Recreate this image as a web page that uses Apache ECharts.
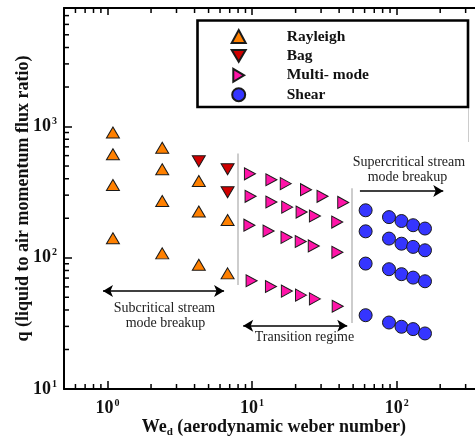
<!DOCTYPE html>
<html>
<head>
<meta charset="utf-8">
<script src="https://cdn.jsdelivr.net/npm/echarts@6/dist/echarts.min.js"></script>
<style>
html,body{margin:0;padding:0;background:#fff;}
#c{width:475px;height:438px;}
</style>
</head>
<body>
<div id="c"></div>
<script>
// ---- data ----
const rayleighX = [1.09, 1.09, 1.09, 1.09, 2.39, 2.39, 2.39, 2.39, 4.28, 4.28, 4.28, 6.77, 6.77];
const rayleighY = [900, 615, 358, 141, 690, 472, 271, 108, 385, 225, 88.5, 194, 76];
const bagX = [4.28, 6.77, 6.77];
const bagY = [543, 472, 316];
const multiX = [9.66, 13.6, 17.1, 23.6, 30.7, 42.7,
                9.76, 13.6, 17.5, 22.0, 27.2, 38.8,
                9.58, 13.0, 17.3, 21.7, 26.7, 38.9,
                9.92, 13.5, 17.4, 21.8, 27.2, 39.1];
const multiY = [436, 393, 367, 330, 294, 264,
                294, 266, 243, 223, 208, 187,
                177, 160, 143, 133, 123, 110,
                66.8, 60.4, 55.7, 51.9, 48.6, 42.7];
const shearX = [61, 88.5, 108, 130, 157,
                61, 88.5, 108, 130, 157,
                61, 88.5, 108, 130, 157,
                61, 88.5, 108, 130, 157];
const shearY = [230, 204, 190.5, 177, 167,
                159, 140, 128, 121, 114,
                90.3, 81.8, 75, 70.6, 66.2,
                36.5, 32.1, 29.8, 28.6, 26.5];
const seriesNames = ['Rayleigh', 'Bag', 'Multi- mode', 'Shear'];
const xRange = [0.5, 400];
const yRange = [10, 8000];
const xMinorTicks = [0.6, 0.7, 0.8, 0.9, 2, 3, 4, 5, 6, 7, 8, 9, 20, 30, 40, 50, 60, 70, 80, 90, 200, 300];
const yMinorTicks = [20, 30, 40, 50, 60, 70, 80, 90, 200, 300, 400, 500, 600, 700, 800, 900, 2000, 3000, 4000, 5000, 6000, 7000];
// regime boundary lines [x, yTop, yBottom]
const boundaries = [[8, 624, 62], [49, 338, 31.8]];
// arrows [x1, x2, y]
const arrowSub = [0.93, 6.4, 55.9];
const arrowTrans = [8.68, 45.5, 30.3];
const arrowSuper = [55.7, 210, 322];

const zip = (xs, ys) => xs.map((x, i) => [x, ys[i]]);

const serif = '"Liberation Serif", "Times New Roman", serif';
const stroke = '#1a1a1a';

function expLabel(v) {
  const e = Math.round(Math.log10(v));
  return '{b|10}{s|' + e + '}';
}
const richExp = {
  b: {fontFamily: serif, fontWeight: 'bold', fontSize: 18, color: '#111', lineHeight: 20},
  s: {fontFamily: serif, fontWeight: 'bold', fontSize: 10, color: '#111', lineHeight: 20, verticalAlign: 'top', padding: [0, 0, 9, 1]}
};

const chart = echarts.init(document.getElementById('c'), null, {renderer: 'canvas'});

function minorTickSeries(data, dir) {
  return {
    type: 'custom',
    coordinateSystem: 'cartesian2d',
    silent: true,
    clip: false,
    z: 5,
    data: data,
    renderItem: function (params, api) {
      const p = api.coord([api.value(0), api.value(1)]);
      let shape;
      if (dir === 'up') shape = {x1: p[0], y1: p[1], x2: p[0], y2: p[1] - 5};
      else if (dir === 'down') shape = {x1: p[0], y1: p[1], x2: p[0], y2: p[1] + 5};
      else shape = {x1: p[0], y1: p[1], x2: p[0] + 5, y2: p[1]};
      return {type: 'line', shape: shape, style: {stroke: '#000', lineWidth: 1.5}};
    }
  };
}

const lineStyleBlack = {color: '#000', width: 1.5, type: 'solid'};

const option = {
  animation: false,
  backgroundColor: '#fff',
  grid: {left: 64, top: 8, width: 419.7, height: 381, containLabel: false, outerBoundsMode: 'none'},
  xAxis: [{
    type: 'log', logBase: 10, min: xRange[0], max: xRange[1], position: 'bottom',
    axisLine: {show: true, onZero: false, lineStyle: {color: '#000', width: 2}},
    axisTick: {show: true, inside: true, length: 8, lineStyle: {color: '#000', width: 1.5}},
    axisLabel: {formatter: expLabel, rich: richExp, margin: 9, showMinLabel: false, showMaxLabel: false},
    splitLine: {show: false},
    name: '{b|We}{d|d}{b| (aerodynamic weber number)}',
    nameLocation: 'middle', nameGap: 27, nameMoveOverlap: false,
    nameTextStyle: {rich: {
      b: {fontFamily: serif, fontWeight: 'bold', fontSize: 18, color: '#111', lineHeight: 22},
      d: {fontFamily: serif, fontWeight: 'bold', fontSize: 11, color: '#111', lineHeight: 22, verticalAlign: 'bottom', padding: [6, 0, 0, 0]}
    }}
  }, {
    type: 'log', logBase: 10, min: xRange[0], max: xRange[1], position: 'top',
    axisLine: {show: true, onZero: false, lineStyle: {color: '#000', width: 2}},
    axisTick: {show: true, inside: true, length: 7, lineStyle: {color: '#000', width: 1.5}},
    axisLabel: {show: false},
    splitLine: {show: false}
  }],
  yAxis: [{
    type: 'log', logBase: 10, min: yRange[0], max: yRange[1], position: 'left',
    axisLine: {show: true, onZero: false, lineStyle: {color: '#000', width: 2}},
    axisTick: {show: true, inside: true, length: 8, lineStyle: {color: '#000', width: 1.5}},
    axisLabel: {formatter: expLabel, rich: richExp, margin: 7, showMaxLabel: false},
    splitLine: {show: false},
    name: 'q (liquid to air momentum flux ratio)',
    nameLocation: 'middle', nameGap: 32, nameRotate: 90, nameMoveOverlap: false,
    nameTextStyle: {fontFamily: serif, fontWeight: 'bold', fontSize: 18, color: '#111'}
  }, {
    type: 'log', logBase: 10, min: yRange[0], max: yRange[1], position: 'right',
    axisLine: {show: true, onZero: false, lineStyle: {color: '#000', width: 2}},
    axisTick: {show: true, inside: true, length: 8},
    axisLabel: {show: false},
    splitLine: {show: false}
  }],
  legend: {
    data: [
      {name: seriesNames[0], icon: 'triangle'},
      {name: seriesNames[1], icon: 'path://M0,0 L12,0 L6,10 Z'},
      {name: seriesNames[2], icon: 'path://M0,0 L10,6 L0,12 Z'},
      {name: seriesNames[3], icon: 'circle'}
    ],
    orient: 'vertical',
    left: 230.7, top: 28.5,
    padding: 0,
    itemWidth: 14, itemHeight: 13, itemGap: 3.4,
    formatter: function (n) { return '{t|' + n + '}'; },
    textStyle: {rich: {t: {fontFamily: serif, fontWeight: 'bold', fontSize: 15.5, color: '#111', lineHeight: 13, padding: [0, 0, 0, 36]}}}
  },
  graphic: [
    {type: 'rect', shape: {x: 197.5, y: 20.5, width: 270.5, height: 86.5}, style: {fill: 'none', stroke: '#000', lineWidth: 2.6}, z: 100},
    {type: 'line', shape: {x1: 468.5, y1: 107, x2: 468.5, y2: 142}, style: {stroke: '#ccc', lineWidth: 1}},
    {type: 'text', x: 164.5, y: 308.5, style: {text: 'Subcritical stream', font: '14px ' + serif, fill: '#222', align: 'center', verticalAlign: 'middle'}},
    {type: 'text', x: 165.5, y: 323.5, style: {text: 'mode breakup', font: '14px ' + serif, fill: '#222', align: 'center', verticalAlign: 'middle'}},
    {type: 'text', x: 304.5, y: 337.5, style: {text: 'Transition regime', font: '14px ' + serif, fill: '#222', align: 'center', verticalAlign: 'middle'}},
    {type: 'text', x: 409, y: 162.5, style: {text: 'Supercritical stream', font: '14px ' + serif, fill: '#222', align: 'center', verticalAlign: 'middle'}},
    {type: 'text', x: 407.5, y: 177.5, style: {text: 'mode breakup', font: '14px ' + serif, fill: '#222', align: 'center', verticalAlign: 'middle'}}
  ],
  series: [
    {
      name: 'Rayleigh', type: 'scatter', data: zip(rayleighX, rayleighY),
      symbol: 'triangle', symbolSize: [13, 11],
      itemStyle: {color: '#FF8000', borderColor: stroke, borderWidth: 1, opacity: 1},
      z: 10,
      markLine: {
        silent: true, animation: false, symbol: ['none', 'none'],
        label: {show: false},
        lineStyle: {color: '#bdbdbd', width: 1.5, type: 'solid'},
        data: boundaries.map(b => [{coord: [b[0], b[1]]}, {coord: [b[0], b[2]]}])
      }
    },
    {
      name: 'Bag', type: 'scatter', data: zip(bagX, bagY),
      symbol: 'triangle', symbolRotate: 180, symbolSize: [13, 11],
      itemStyle: {color: '#D00000', borderColor: stroke, borderWidth: 1, opacity: 1},
      z: 10,
      markLine: {
        silent: true, animation: false, symbol: ['arrow', 'arrow'], symbolSize: [9, 10],
        label: {show: false},
        lineStyle: lineStyleBlack,
        data: [
          [{coord: [arrowSub[0], arrowSub[2]]}, {coord: [arrowSub[1], arrowSub[2]]}],
          [{coord: [arrowTrans[0], arrowTrans[2]]}, {coord: [arrowTrans[1], arrowTrans[2]]}]
        ]
      }
    },
    {
      name: 'Multi- mode', type: 'scatter', data: zip(multiX, multiY),
      symbol: 'triangle', symbolRotate: -90, symbolSize: [12, 11],
      itemStyle: {color: '#FF14A8', borderColor: stroke, borderWidth: 1, opacity: 1},
      z: 10,
      markLine: {
        silent: true, animation: false, symbol: ['none', 'arrow'], symbolSize: [9, 10],
        label: {show: false},
        lineStyle: lineStyleBlack,
        data: [
          [{coord: [arrowSuper[0], arrowSuper[2]]}, {coord: [arrowSuper[1], arrowSuper[2]]}]
        ]
      }
    },
    {
      name: 'Shear', type: 'scatter', data: zip(shearX, shearY),
      symbol: 'circle', symbolSize: 13,
      itemStyle: {color: '#3535FF', borderColor: stroke, borderWidth: 1, opacity: 1},
      z: 10
    },
    minorTickSeries(xMinorTicks.map(v => [v, yRange[0]]), 'up'),
    minorTickSeries(xMinorTicks.map(v => [v, yRange[1]]), 'down'),
    minorTickSeries(yMinorTicks.map(v => [xRange[0], v]), 'right')
  ]
};
chart.setOption(option);
</script>
</body>
</html>
